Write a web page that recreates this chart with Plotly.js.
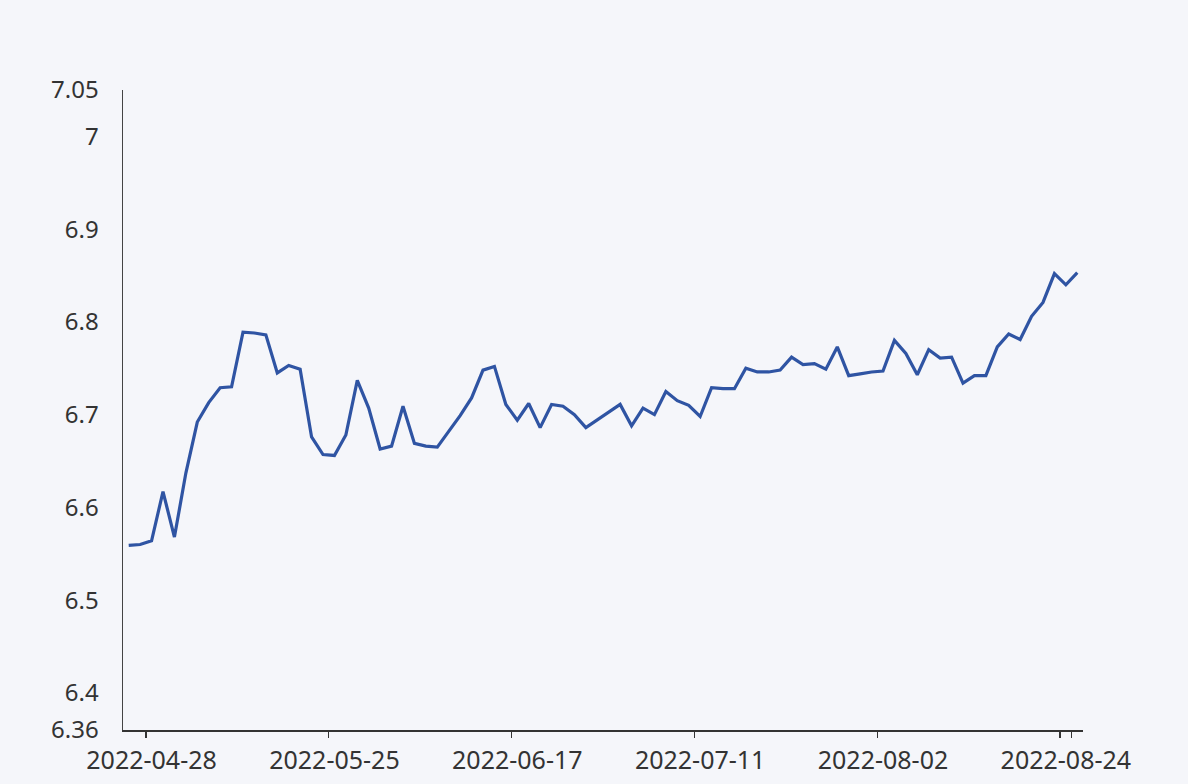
<!DOCTYPE html>
<html>
<head>
<meta charset="utf-8">
<script src="https://cdn.plot.ly/plotly-3.0.1.min.js"></script>
<style>
html,body{margin:0;padding:0;background:#f5f6fa;}
#chart{width:1188px;height:784px;}
</style>
</head>
<body>
<div id="chart"></div>
<script>
// Trading days (category axis)
var dates = [
"2022-04-26","2022-04-27","2022-04-28","2022-04-29",
"2022-05-05","2022-05-06","2022-05-09","2022-05-10","2022-05-11","2022-05-12","2022-05-13",
"2022-05-16","2022-05-17","2022-05-18","2022-05-19","2022-05-20",
"2022-05-23","2022-05-24","2022-05-25","2022-05-26","2022-05-27",
"2022-05-30","2022-05-31","2022-06-01","2022-06-02",
"2022-06-06","2022-06-07","2022-06-08","2022-06-09","2022-06-10",
"2022-06-13","2022-06-14","2022-06-15","2022-06-16","2022-06-17",
"2022-06-20","2022-06-21","2022-06-22","2022-06-23","2022-06-24",
"2022-06-27","2022-06-28","2022-06-29","2022-06-30","2022-07-01",
"2022-07-04","2022-07-05","2022-07-06","2022-07-07","2022-07-08",
"2022-07-11","2022-07-12","2022-07-13","2022-07-14","2022-07-15",
"2022-07-18","2022-07-19","2022-07-20","2022-07-21","2022-07-22",
"2022-07-25","2022-07-26","2022-07-27","2022-07-28","2022-07-29",
"2022-08-01","2022-08-02","2022-08-03","2022-08-04","2022-08-05",
"2022-08-08","2022-08-09","2022-08-10","2022-08-11","2022-08-12",
"2022-08-15","2022-08-16","2022-08-17","2022-08-18","2022-08-19",
"2022-08-22","2022-08-23","2022-08-24","2022-08-25"
];

var rates = [
6.559,6.560,6.564,6.617,6.568,6.637,6.692,6.713,6.729,6.730,
6.789,6.788,6.786,6.745,6.753,6.749,6.676,6.657,6.656,6.678,
6.737,6.707,6.663,6.666,6.709,6.669,6.666,6.665,6.682,6.699,
6.718,6.748,6.752,6.711,6.694,6.712,6.686,6.711,6.709,6.700,
6.686,6.694,6.703,6.711,6.688,6.707,6.700,6.725,6.715,6.710,
6.698,6.729,6.728,6.728,6.750,6.746,6.746,6.748,6.762,6.754,
6.755,6.749,6.773,6.742,6.744,6.746,6.747,6.780,6.766,6.743,
6.770,6.761,6.762,6.734,6.742,6.742,6.773,6.787,6.781,6.806,
6.821,6.852,6.840,6.853
];

var xTickVals = ["2022-04-28","2022-05-25","2022-06-17","2022-07-11","2022-08-02","2022-08-24"];
var yTickVals = [6.36,6.4,6.5,6.6,6.7,6.8,6.9,7,7.05];
var yTickText = ["6.36","6.4","6.5","6.6","6.7","6.8","6.9","7","7.05"];

var trace = {
  type: "scatter",
  mode: "lines",
  x: dates,
  y: rates,
  line: {color: "#2f54a3", width: 3.2},
  hoverinfo: "x+y"
};

var layout = {
  width: 1188,
  height: 784,
  paper_bgcolor: "#f5f6fa",
  plot_bgcolor: "#f5f6fa",
  margin: {l: 123, r: 105, t: 90, b: 54},
  showlegend: false,
  font: {family: "Noto Sans, Open Sans, sans-serif", size: 23, color: "#333333"},
  xaxis: {
    type: "category",
    range: [-0.5, dates.length - 0.5],
    tickmode: "array",
    tickvals: xTickVals,
    ticktext: xTickVals,
    tickson: "boundaries",
    ticks: "outside",
    ticklen: 6,
    tickwidth: 1.5,
    tickcolor: "#333",
    ticklabelstandoff: 7,
    showline: true,
    linecolor: "#333",
    linewidth: 1.5,
    showgrid: false,
    zeroline: false,
    tickangle: 0,
    tickfont: {size: 25, color: "#333"}
  },
  yaxis: {
    range: [6.36, 7.05],
    tickmode: "array",
    tickvals: yTickVals,
    ticktext: yTickText,
    ticks: "",
    ticklabelstandoff: 18,
    showline: true,
    linecolor: "#444",
    linewidth: 1.5,
    showgrid: false,
    zeroline: false,
    tickfont: {size: 24, color: "#333"}
  }
};

Plotly.newPlot("chart", [trace], layout, {displayModeBar: false, staticPlot: true});
</script>
</body>
</html>
